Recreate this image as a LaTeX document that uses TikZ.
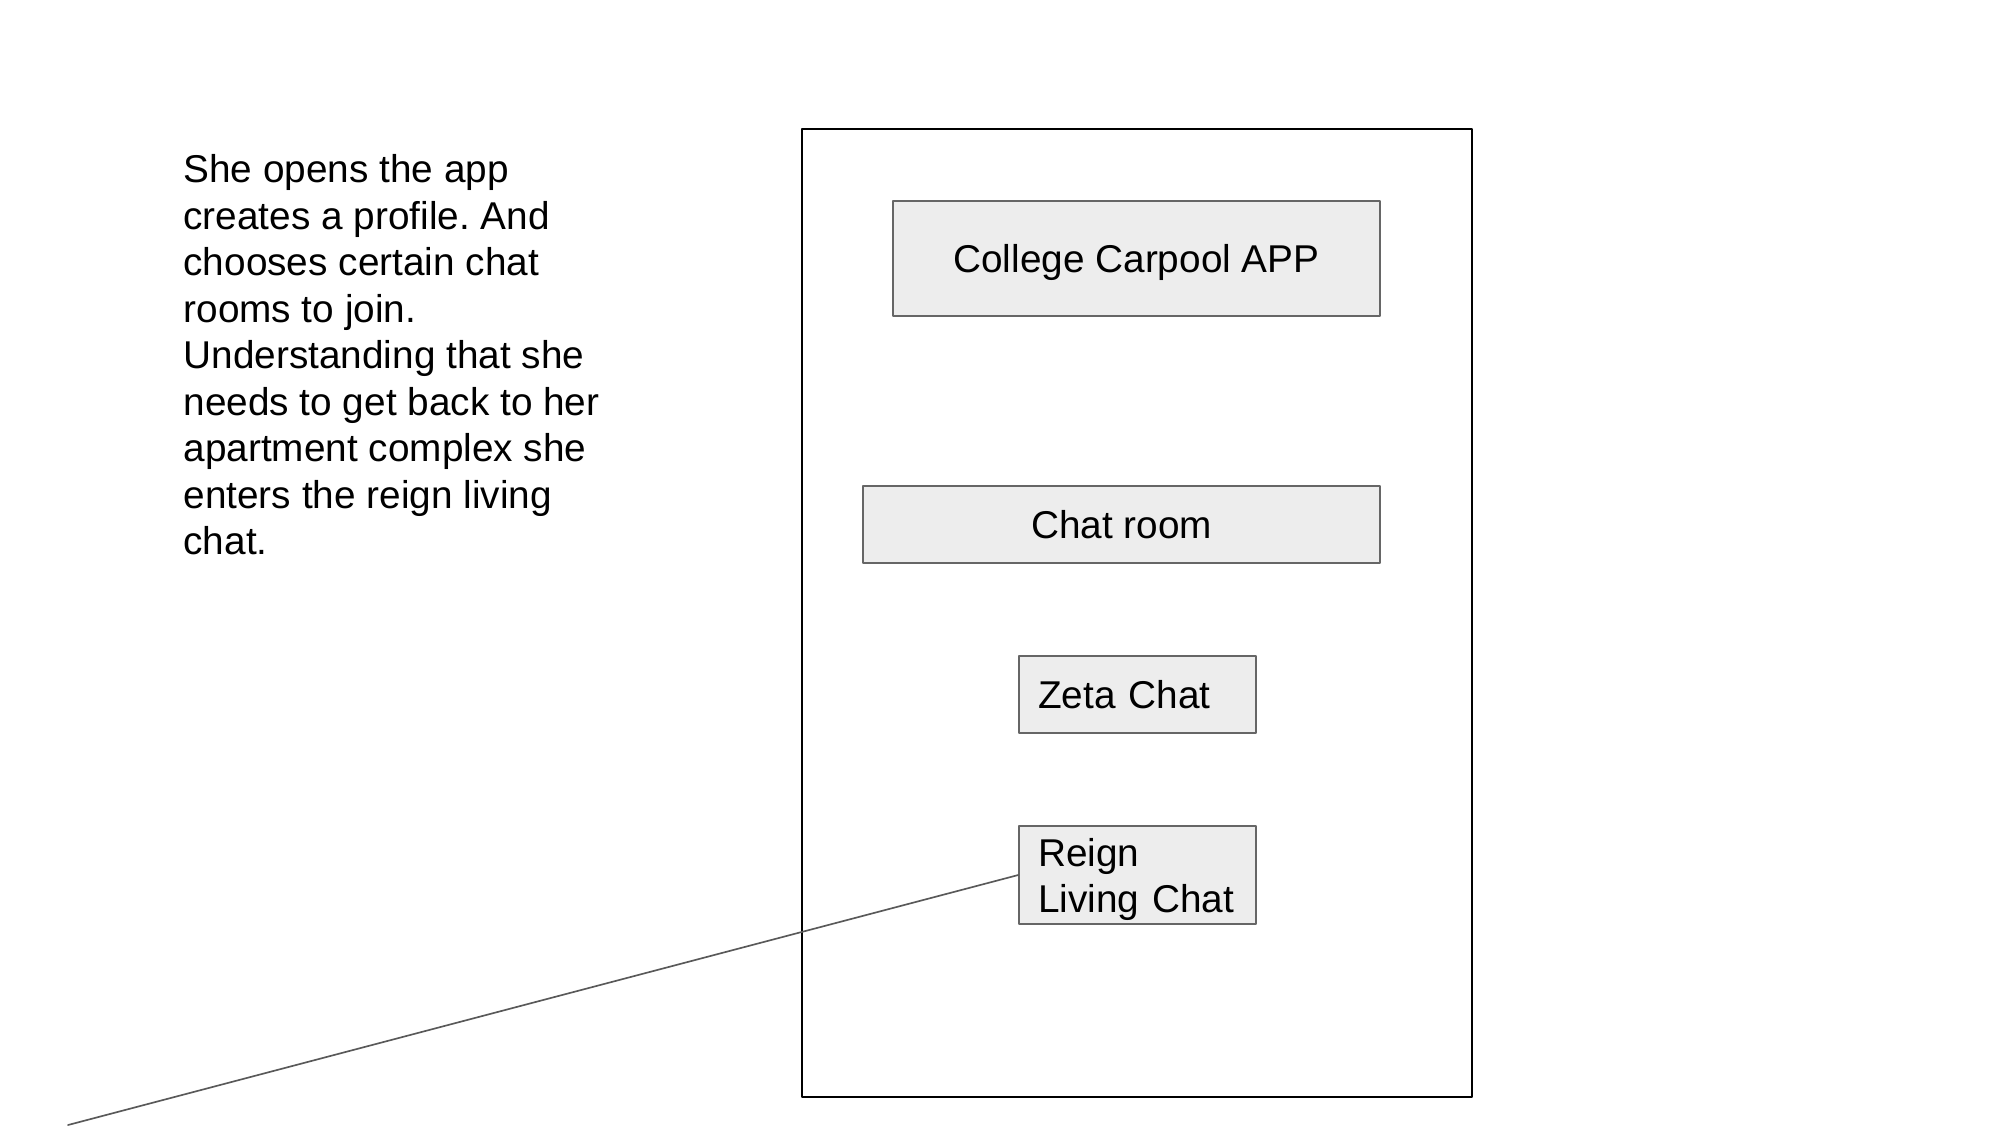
\documentclass[tikz,border=0pt]{standalone}
\usepackage{fontspec}
\setmainfont{Liberation Sans}
\usetikzlibrary{positioning}
\definecolor{eeeeee}{rgb}{0.93,0.93,0.93}
\definecolor{uququq}{rgb}{0.4,0.4,0.4}
\definecolor{zzzzzz}{rgb}{0.35,0.35,0.35}

\begin{document}
\frenchspacing
\begin{tikzpicture}[line cap=round,line join=round,x=0.0127cm,y=-0.0127cm,
  every node/.style={font=\fontsize{14}{16.8}\selectfont},
  chatbox/.style={draw=uququq,fill=eeeeee,line width=0.55pt,line cap=butt,inner sep=0pt},
  roombox/.style={chatbox,minimum width=85.6pt,inner xsep=6.9pt,text width=71.8pt,align=left},
  link/.style={draw=zzzzzz,line width=0.6pt}]
\useasboundingbox (0,0) rectangle (2000,1125);
% phone frame
\draw[line width=0.75pt,line cap=butt] (802,129) rectangle (1472,1097);
\node[anchor=north west,inner sep=0pt,align=left] (story) at (183,154)
  {She opens the app\\creates a profile. And\\chooses certain chat\\rooms to join.\\Understanding that she\\needs to get back to her\\apartment complex she\\enters the reign living\\chat.};
\node[chatbox,minimum width=176pt,minimum height=41.6pt,text depth=0pt] (app) at (1136.5,258.5) {College Carpool APP};
\node[chatbox,minimum width=186.8pt,minimum height=27.8pt] (room) at (1121.5,524.5) {Chat room};
\node[roombox,minimum height=27.8pt,text depth=0pt] (zeta) at (1137.5,694.5) {Zeta Chat};
\node[roombox,minimum height=35.4pt,text depth=16.4pt] (reign) at (1137.5,875) {Reign\\Living Chat};
\coordinate (exit) at (68,1125);
\draw[link] (reign.west) -- (exit);
\end{tikzpicture}
\end{document}
